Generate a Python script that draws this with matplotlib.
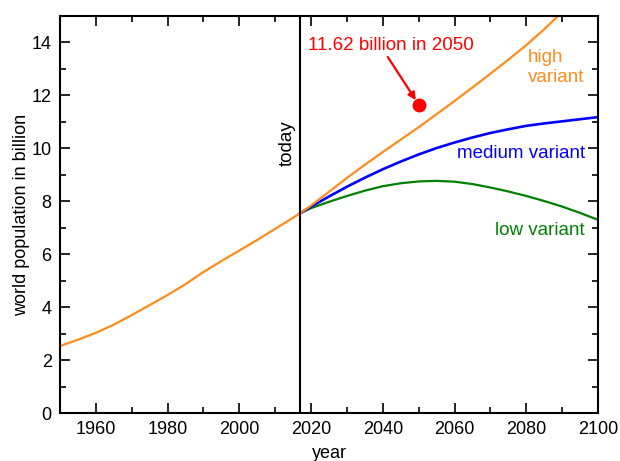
import numpy as np
from matplotlib import pyplot as plt
from matplotlib.ticker import MultipleLocator

plt.rcParams['font.family'] = ['Liberation Sans', 'DejaVu Sans']

# world population in billion (UN WPP 2017)
past_years = [1950, 1955, 1960, 1965, 1970, 1975, 1980, 1985, 1990, 1995, 2000, 2005, 2010, 2015, 2017]
past_pop = [2.53, 2.77, 3.03, 3.34, 3.70, 4.08, 4.46, 4.87, 5.33, 5.74, 6.14, 6.54, 6.96, 7.38, 7.55]

future_years = [2017, 2020, 2025, 2030, 2035, 2040, 2045, 2050, 2055, 2060,
                2065, 2070, 2075, 2080, 2085, 2090, 2095, 2100]
high_pop = [7.55, 7.84, 8.36, 8.88, 9.38, 9.86, 10.33, 10.80, 11.29, 11.79,
            12.30, 12.82, 13.35, 13.90, 14.50, 15.15, 15.80, 16.50]
medium_pop = [7.55, 7.80, 8.18, 8.55, 8.89, 9.21, 9.50, 9.77, 10.01, 10.22,
              10.41, 10.58, 10.72, 10.85, 10.94, 11.02, 11.10, 11.18]
low_pop = [7.55, 7.74, 7.98, 8.20, 8.40, 8.57, 8.68, 8.75, 8.77, 8.74,
           8.65, 8.52, 8.37, 8.20, 8.01, 7.80, 7.56, 7.30]

today = 2017
mark_year, mark_pop = 2050, 11.62

orange = '#ff8c1a'

if __name__ == '__main__':
    fig = plt.figure(figsize=(6.2, 4.61), dpi=100)
    ax = fig.add_axes([0.0968, 0.1041, 0.8677, 0.8612])

    ax.plot(past_years, past_pop, color=orange, lw=1.6)
    ax.plot(future_years, low_pop, color='#008000', lw=1.6)
    ax.plot(future_years, medium_pop, color='#0000ff', lw=1.9)
    ax.plot(future_years, high_pop, color=orange, lw=1.6)
    ax.axvline(today, color='black', lw=1.5)

    ax.plot([mark_year], [mark_pop], 'o', color='#ff0000', ms=9)
    ax.annotate('', xy=(2049.2, 11.82), xytext=(2041.4, 13.45),
                arrowprops=dict(arrowstyle='-|>', color='#ff0000', lw=1.6,
                                shrinkA=0, shrinkB=0, mutation_scale=11))
    ax.text(2042.3, 13.9, '11.62 billion in 2050', color='#ff0000', fontsize=13.5,
            ha='center', va='center')

    ax.text(2080.5, 13.05, 'high\nvariant', color=orange, fontsize=13.5, ha='left', va='center',
            linespacing=1.2)
    ax.text(2096.4, 9.82, 'medium variant', color='#0000ff', fontsize=13.5, ha='right', va='center')
    ax.text(2096.4, 6.91, 'low variant', color='#008000', fontsize=13.5, ha='right', va='center')
    ax.text(today - 1.2, 10.2, 'today', rotation=90, fontsize=13.5, ha='right', va='center')

    ax.set_xlim(1950, 2100)
    ax.set_ylim(0, 15)
    ax.set_xlabel('year', fontsize=13, labelpad=5)
    ax.set_ylabel('world population in billion', fontsize=13, labelpad=1)
    ax.xaxis.set_major_locator(MultipleLocator(20))
    ax.xaxis.set_minor_locator(MultipleLocator(10))
    ax.yaxis.set_major_locator(MultipleLocator(2))
    ax.yaxis.set_minor_locator(MultipleLocator(1))
    ax.tick_params(which='both', direction='in', top=True, right=True, labelsize=13, width=1.2)
    ax.tick_params(which='major', length=7, pad=6)
    ax.tick_params(which='minor', length=4)
    for s in ax.spines.values():
        s.set_linewidth(1.5)

    fig.savefig('out.png', dpi=100)
